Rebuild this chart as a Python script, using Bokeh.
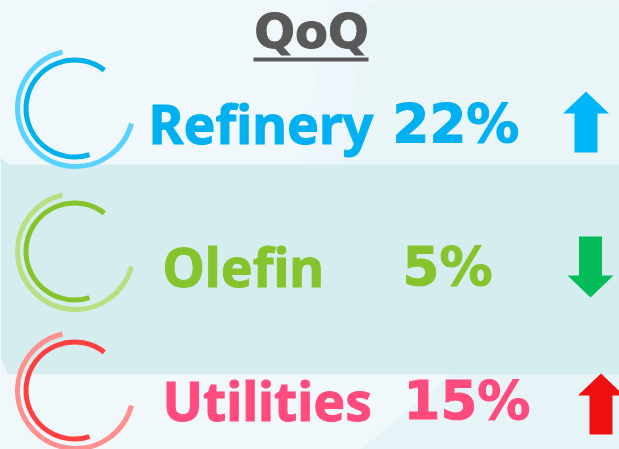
from bokeh.plotting import figure
from bokeh.models import Range1d
from bokeh.core.properties import value
from bokeh.embed import file_html
from bokeh.resources import INLINE
import math

# ---- data
title = "QoQ"
categories = ["Refinery", "Olefin", "Utilities"]
changes = [22, 5, 15]
directions = ["up", "down", "up"]

# ---- styles / layout
text_colors = ["#00B0F0", "#86C42E", "#FF4B7D"]
outer_colors = ["#5AD2FF", "#B8E080", "#FF9090"]
inner_colors = ["#00B0E8", "#86C42E", "#FF4040"]
arrow_colors = ["#00B6F8", "#05BC58", "#EE1010"]
W, H = 619, 449
ring_cy = [108, 251, 390]
name_x = [148, 162, 162]
pct_x = [392, 402, 403]
base_y = [144, 287, 421]
arrow_cx = [585.5, 590, 600.5]
arrow_tip = [91, 297, 373]
name_font = "Noto Sans"
pct_font = "DejaVu Sans"
BASE_FIX = 0.4  # em between the alphabetic anchor and the drawn baseline


def Y(py):
    return H - py


p = figure(width=W, height=H, output_backend="svg", toolbar_location=None,
           x_range=Range1d(0, W), y_range=Range1d(0, H), min_border=0,
           background_fill_color="#EDF6FA", border_fill_color="#EDF6FA",
           outline_line_color=None)
p.axis.visible = False
p.grid.visible = False
p.styles = {"position": "fixed", "left": "0px", "top": "0px"}

# subtle background facets
p.patch([0, 130, 330, 300, 0], [Y(0), Y(0), Y(0), Y(164), Y(164)], fill_color="#F0F8FB", line_color=None)
p.patch([370, 619, 619, 340], [Y(0), Y(0), Y(164), Y(164)], fill_color="#EAF5F8", line_color=None)
p.patch([0, 619, 619, 0], [Y(374), Y(374), Y(449), Y(449)], fill_color="#F0F8FB", line_color=None)
p.patch([450, 619, 619, 360], [Y(374), Y(374), Y(449), Y(449)], fill_color="#E6F4F8", line_color=None)
# central band
p.patch([0, 8, 619, 619, 8, 0], [Y(157), Y(164), Y(164), Y(374), Y(374), Y(358)],
        fill_color="#D5EDEF", line_color=None)

# title
p.text([311], [Y(50)], text=[title], text_font=value(pct_font), text_font_style="bold",
       text_font_size="48px", text_color="#595959", text_outline_color="#595959",
       text_align="center", text_baseline="alphabetic", y_offset=-BASE_FIX * 48)
p.quad(left=[253], right=[368], top=[Y(57)], bottom=[Y(61)], fill_color="#595959", line_color=None)

for i, (name, ch, d) in enumerate(zip(categories, changes, directions)):
    cy = ring_cy[i]
    p.arc([75], [Y(cy)], radius=58, start_angle=math.radians(103), end_angle=math.radians(345),
          direction="anticlock", line_color=outer_colors[i], line_width=5)
    p.arc([74], [Y(cy)], radius=48.5, start_angle=math.radians(52), end_angle=math.radians(288),
          direction="anticlock", line_color=inner_colors[i], line_width=5)
    p.text([name_x[i]], [Y(base_y[i])], text=[name], text_font=value(name_font), text_font_style="bold",
           text_font_size="53.5px", text_color=text_colors[i], text_outline_color=text_colors[i],
           text_baseline="alphabetic", y_offset=-BASE_FIX * 53.5)
    p.text([pct_x[i]], [Y(base_y[i])], text=[f"{ch}%"], text_font=value(pct_font), text_font_style="bold",
           text_font_size="53px", text_color=text_colors[i], text_outline_color=text_colors[i],
           text_baseline="alphabetic", y_offset=-BASE_FIX * 53)
    cx, tip = arrow_cx[i], arrow_tip[i]
    s = 1 if d == "up" else -1
    xs = [cx, cx + 23, cx + 11.5, cx + 11.5, cx - 11.5, cx - 11.5, cx - 23]
    ys = [tip, tip + s * 22, tip + s * 22, tip + s * 61, tip + s * 61, tip + s * 22, tip + s * 22]
    p.patch(xs, [Y(v) for v in ys], fill_color=arrow_colors[i], line_color=None)

open("out.html", "w").write(file_html(p, INLINE))
